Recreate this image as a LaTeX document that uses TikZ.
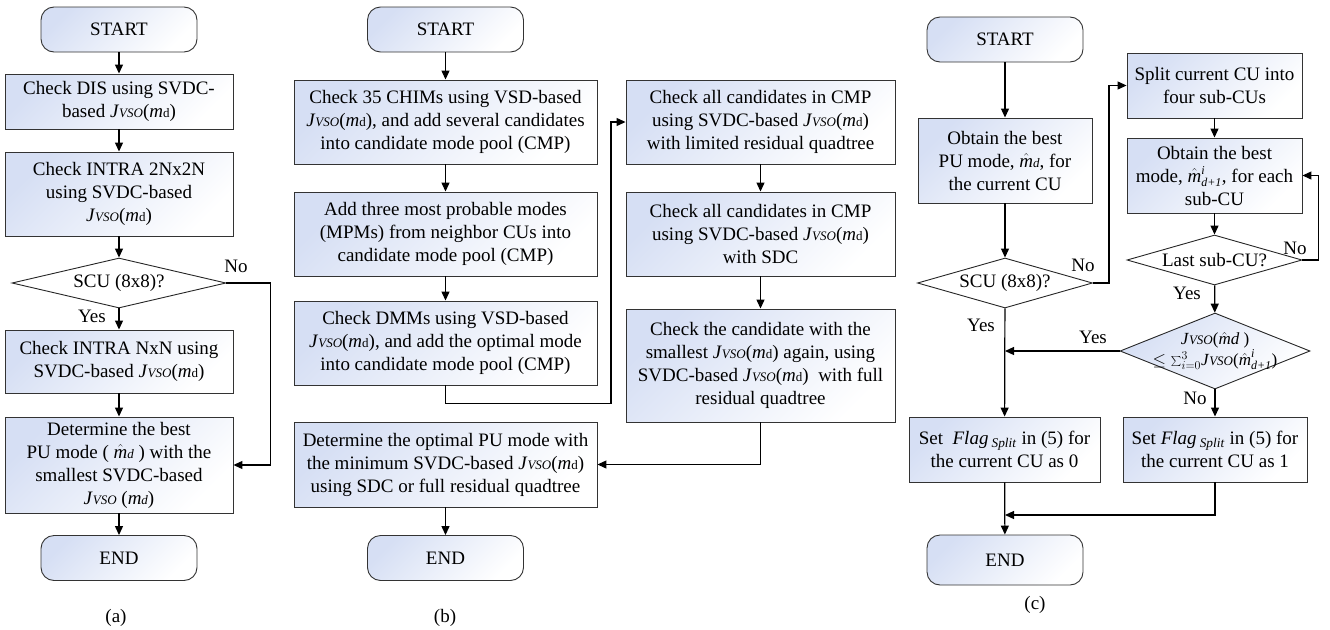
\documentclass[tikz,border=0pt]{standalone}
\usepackage{fontspec}
\setmainfont{Liberation Serif}
\usetikzlibrary{shapes.geometric,arrows.meta}
\definecolor{boxblue}{RGB}{214,223,244}
\newcommand{\jvso}{\textit{J}{\fontsize{13}{13}\selectfont\textit{VSO}}}
\newcommand{\mdd}{\textit{m}{\fontsize{13}{13}\selectfont d}}
\newcommand{\mhat}{$\hat{\mbox{\itshape m}}${\fontsize{13}{13}\selectfont\itshape d}}
\newcommand{\mhati}{$\hat{\mbox{\itshape m}}^{\mbox{\fontsize{12}{12}\selectfont\itshape i}}_{\mbox{\fontsize{12}{12}\selectfont\itshape d+1}}$}
\newcommand{\flagsplit}{\textit{Flag}\,\textsubscript{\textit{Split}}}
\begin{document}
\begin{tikzpicture}[x=1pt,y=-1pt]
\tikzset{every node/.style={font=\fontsize{19}{23}\selectfont}}
\tikzset{box/.style={draw=black!80,line width=0.9pt,top color=boxblue,bottom color=white,shading angle=45,align=center,inner sep=0pt}}
\tikzset{term/.style={box,rounded corners=13pt,minimum width=156pt,minimum height=45pt}}
\tikzset{dec/.style={diamond,draw=black!85,line width=0.9pt,fill=white,inner sep=-8pt,aspect=3,align=center}}
\tikzset{line/.style={line width=1.2pt}}
\tikzset{arr/.style={line,-{Triangle[length=9pt,width=8pt]}}}
\useasboundingbox (0,0) rectangle (1330,629);

% (a)
\node[term] (starta) at (119,29.5) {START};
\node[box,minimum width=228pt,minimum height=55pt] (a1) at (119,101.5) {Check DIS using SVDC-\\based \jvso(\mdd)};
\node[box,minimum width=228pt,minimum height=84pt] (a2) at (119,194) {Check INTRA 2Nx2N\\using SVDC-based\\\jvso(\mdd)};
\node[dec,minimum width=214pt,minimum height=50pt] (da) at (119,283) {SCU (8x8)?};
\node[box,minimum width=228pt,minimum height=63pt] (a3) at (119,361.5) {Check INTRA NxN using\\SVDC-based \jvso(\mdd)};
\node[box,minimum width=228pt,minimum height=96pt] (a4) at (119,465) {Determine the best\\PU mode ( \mhat\ ) with the\\smallest SVDC-based\\\jvso\ (\textit{m}{\fontsize{13}{13}\selectfont\itshape d})};
\node[term] (enda) at (119,558) {END};
\node (capa) at (116,618) {(a)};
\node (noa) at (236,266) {No};
\node (yesa) at (92,316) {Yes};
\draw[arr] (starta) -- (a1);
\draw[arr] (a1) -- (a2);
\draw[arr] (a2) -- (da);
\draw[arr] (da) -- (a3);
\draw[arr] (da.east) -- ++(44,0) |- (a4.east);
\draw[arr] (a3) -- (a4);
\draw[arr] (a4) -- (enda);

% (b)
\node[term] (startb) at (445.5,29.5) {START};
\node[box,minimum width=303pt,minimum height=84pt] (b1) at (445.5,122) {Check 35 CHIMs using VSD-based\\\jvso(\mdd), and add several candidates\\into candidate mode pool (CMP)};
\node[box,minimum width=303pt,minimum height=84pt] (b2) at (445.5,234) {Add three most probable modes\\(MPMs) from neighbor CUs into\\candidate mode pool (CMP)};
\node[box,minimum width=303pt,minimum height=84pt] (b3) at (445.5,343) {Check DMMs using VSD-based\\\jvso(\mdd), and add the optimal mode\\into candidate mode pool (CMP)};
\node[box,minimum width=269pt,minimum height=84pt] (b4) at (760.5,122) {Check all candidates in CMP\\using SVDC-based \jvso(\mdd)\\with limited residual quadtree};
\node[box,minimum width=269pt,minimum height=84pt] (b5) at (760.5,234) {Check all candidates in CMP\\using SVDC-based \jvso(\mdd)\\with SDC};
\node[box,minimum width=269pt,minimum height=113pt] (b6) at (760.5,365.5) {Check the candidate with the\\smallest \jvso(\mdd) again, using\\SVDC-based \jvso(\mdd)\ \ with full\\residual quadtree};
\node[box,minimum width=303pt,minimum height=85pt] (b7) at (445.5,464.5) {Determine the optimal PU mode with\\the minimum SVDC-based \jvso(\mdd)\\using SDC or full residual quadtree};
\node[term] (endb) at (445.5,558) {END};
\node (capb) at (445,618) {(b)};
\draw[arr] (startb) -- (b1);
\draw[arr] (b1) -- (b2);
\draw[arr] (b2) -- (b3);
\draw[arr] (b3.south) -- ++(0,18) -- ++(165.5,0) |- (b4.west);
\draw[arr] (b4) -- (b5);
\draw[arr] (b5) -- (b6);
\draw[arr] (b6.south) |- (b7.east);
\draw[arr] (b7) -- (endb);

% (c)
\node[term] (startc) at (1005,39.5) {START};
\node[box,minimum width=174pt,minimum height=85pt] (c1) at (1005,160.5) {Obtain the best\\PU mode, \mhat, for\\the current CU};
\node[dec,minimum width=175pt,minimum height=50pt] (dc) at (1005,283) {SCU (8x8)?};
\node[box,minimum width=175pt,minimum height=65pt] (c2) at (1214.5,85.5) {Split current CU into\\four sub-CUs};
\node[box,minimum width=175pt,minimum height=75pt] (c3) at (1214.5,175.5) {Obtain the best\\mode, \mhati, for each\\sub-CU};
\node[dec,minimum width=175pt,minimum height=50pt] (dl) at (1214.5,260) {Last sub-CU?};
\node[dec,top color=boxblue,bottom color=white,shading angle=45,minimum width=190pt,minimum height=76pt,inner sep=-16pt,font=\fontsize{17}{21}\selectfont] (dj) at (1215,351) {\jvso($\hat{\mbox{\itshape m}}$\textit{d} )\\$\le\sum_{i=0}^{3}$\jvso(\mhati)};
\node[box,minimum width=191pt,minimum height=65pt] (f0) at (1004.5,449.5) {Set \ \flagsplit\ in (5) for\\the current CU as 0};
\node[box,minimum width=184pt,minimum height=65pt] (f1) at (1215,449.5) {Set \flagsplit\ in (5) for\\the current CU as 1};
\node[term,minimum height=50pt] (endc) at (1005,560) {END};
\node (capc) at (1035,605) {(c)};
\node (noc1) at (1083,265) {No};
\node (yesc1) at (981,325) {Yes};
\node (noc2) at (1295,248) {No};
\node (yesc2) at (1187,293) {Yes};
\node (yesc3) at (1093,337) {Yes};
\node (noc3) at (1195,398) {No};
\coordinate (mc) at (1005,515);
\draw[arr] (startc) -- (c1);
\draw[arr] (c1) -- (dc);
\draw[arr] (dc.east) -- ++(16,0) |- (c2.west);
\draw[arr] (c2) -- (c3);
\draw[arr] (c3) -- (dl);
\draw[arr] (dl.east) -- ++(16,0) |- (c3.east);
\draw[arr] (dl) -- (dj);
\draw[arr] (dc) -- (f0);
\draw[arr] (dj.west) -- (dj.west -| dc.south);
\draw[arr] (dj) -- (f1);
\draw[arr] (f1.south) |- (mc);
\draw[arr] (f0) -- (endc);
\end{tikzpicture}
\end{document}
